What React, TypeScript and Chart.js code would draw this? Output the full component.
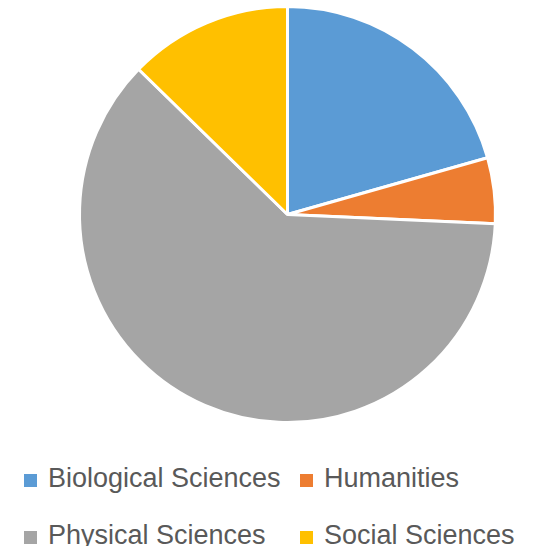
import React, { useEffect, useRef } from "react";
import { Chart, registerables } from "chart.js";

Chart.register(...registerables);

const categories = ["Biological Sciences", "Humanities", "Physical Sciences", "Social Sciences"];
const shares = [20.6, 5.1, 61.6, 12.7];
const colors = ["#5B9BD5", "#ED7D31", "#A5A5A5", "#FFC000"];

export default function App() {
  const ref = useRef<HTMLCanvasElement | null>(null);

  useEffect(() => {
    if (!ref.current) return;
    const chart = new Chart(ref.current, {
      type: "pie",
      data: {
        labels: categories,
        datasets: [
          {
            data: shares,
            backgroundColor: colors,
            borderColor: "#FFFFFF",
            borderWidth: 3,
          },
        ],
      },
      options: {
        animation: false,
        responsive: false,
        radius: 208,
        layout: { padding: { left: 36 } },
        plugins: {
          legend: { display: false },
          tooltip: { enabled: false },
        },
      },
    });
    return () => chart.destroy();
  }, []);

  const legendPos = [
    { left: 24, top: 0 },
    { left: 300, top: 0 },
    { left: 24, top: 57 },
    { left: 300, top: 57 },
  ];

  return (
    <div
      style={{
        position: "absolute",
        left: 0,
        top: 0,
        width: 539,
        height: 546,
        overflow: "hidden",
        background: "#FFFFFF",
      }}
    >
      <canvas
        ref={ref}
        width={539}
        height={429}
        style={{ position: "absolute", left: 0, top: 0, width: 539, height: 429 }}
      />
      {categories.map((c, i) => (
        <div
          key={c}
          style={{
            position: "absolute",
            left: legendPos[i].left,
            top: 464 + legendPos[i].top,
            height: 28,
            whiteSpace: "nowrap",
            fontFamily: "'Liberation Sans', Arial, sans-serif",
            fontSize: 27,
            lineHeight: "28px",
            color: "#595959",
          }}
        >
          <span
            style={{
              position: "absolute",
              left: 0,
              top: 10,
              width: 13,
              height: 13,
              background: colors[i],
            }}
          />
          <span style={{ position: "absolute", left: 24, top: 0 }}>{c}</span>
        </div>
      ))}
    </div>
  );
}
